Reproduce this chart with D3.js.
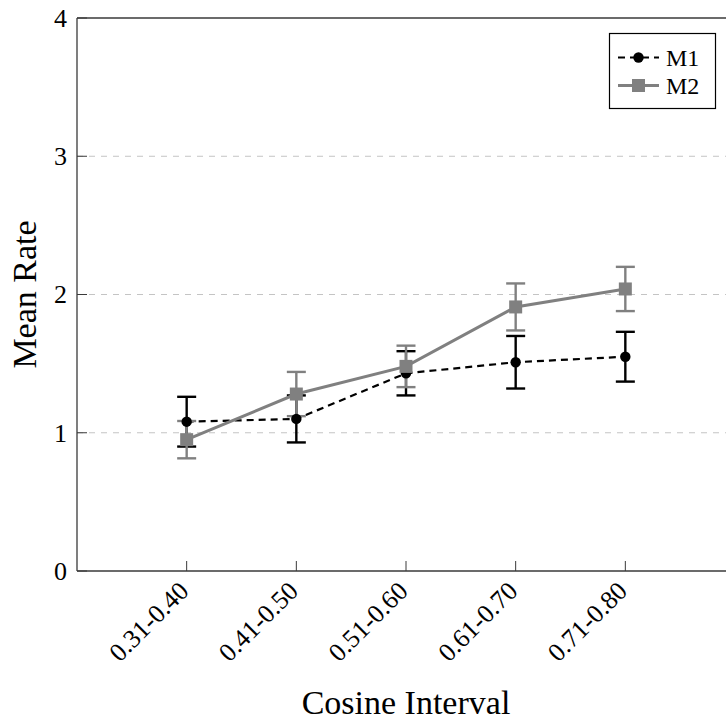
<!DOCTYPE html>
<html>
<head>
<meta charset="utf-8">
<script src="https://cdn.jsdelivr.net/npm/d3@7"></script>
<style>
  body { margin: 0; background: #fff; }
  text { font-family: "Liberation Serif", "Times New Roman", Times, "DejaVu Serif", serif; }
</style>
</head>
<body>
<div id="chart"></div>
<script>
// Chart data
var categories = ["0.31-0.40", "0.41-0.50", "0.51-0.60", "0.61-0.70", "0.71-0.80"];
var m1Values = [1.08, 1.10, 1.43, 1.51, 1.55];
var m1Errors = [0.18, 0.17, 0.16, 0.19, 0.18];
var m2Values = [0.95, 1.28, 1.48, 1.91, 2.04];
var m2Errors = [0.135, 0.16, 0.15, 0.17, 0.16];
var yTicks = [0, 1, 2, 3, 4];
var gridTicks = [1, 2, 3];

var width = 726, height = 722;
var margin = {left: 77, top: 18, bottom: 151};
var plotRight = 735;   // right frame sits just outside the window
var serif = "Liberation Serif, Times New Roman, DejaVu Serif, serif";

var svg = d3.select("#chart").append("svg")
    .attr("width", width).attr("height", height)
    .attr("font-family", serif);

// x: categories placed at 0..4, axis runs from -1 to 5
var x = d3.scaleLinear().domain([-1, 5]).range([margin.left, plotRight]);
var y = d3.scaleLinear().domain([0, 4]).range([height - margin.bottom, margin.top]);

var axisColor = "#3a3a3a";

// Grid lines
svg.append("g").selectAll("line")
    .data(gridTicks).enter().append("line")
    .attr("x1", x(-1)).attr("x2", x(5))
    .attr("y1", function(d) { return y(d); })
    .attr("y2", function(d) { return y(d); })
    .style("stroke", "#c4c4c4")
    .style("stroke-width", 1)
    .style("stroke-dasharray", "6,6");

// Frame
var frame = svg.append("g").style("stroke", axisColor).style("stroke-width", 1.3).style("fill", "none");
frame.append("line").attr("x1", x(-1)).attr("x2", x(-1)).attr("y1", y(0)).attr("y2", y(4));
frame.append("line").attr("x1", x(-1)).attr("x2", x(5)).attr("y1", y(0)).attr("y2", y(0));
frame.append("line").attr("x1", x(-1)).attr("x2", x(5)).attr("y1", y(4)).attr("y2", y(4));

// y ticks (inside) and labels
svg.append("g").selectAll("line")
    .data(yTicks).enter().append("line")
    .attr("x1", x(-1)).attr("x2", x(-1) + 10)
    .attr("y1", function(d) { return y(d); })
    .attr("y2", function(d) { return y(d); })
    .style("stroke", axisColor).style("stroke-width", 1);
svg.append("g").selectAll("text")
    .data(yTicks).enter().append("text")
    .attr("x", x(-1) - 10)
    .attr("y", function(d) { return y(d); })
    .attr("dy", "0.34em")
    .attr("text-anchor", "end")
    .attr("font-family", serif)
    .style("font-size", "26px")
    .text(function(d) { return d; });

// x ticks (inside) and rotated labels
svg.append("g").selectAll("line")
    .data(categories).enter().append("line")
    .attr("x1", function(d, i) { return x(i); })
    .attr("x2", function(d, i) { return x(i); })
    .attr("y1", y(0)).attr("y2", y(0) - 10)
    .style("stroke", axisColor).style("stroke-width", 1);
svg.append("g").selectAll("text")
    .data(categories).enter().append("text")
    .attr("transform", function(d, i) {
        return "translate(" + (x(i) - 3) + "," + (y(0) + 15) + ") rotate(-45)";
    })
    .attr("text-anchor", "end")
    .attr("dy", "0.35em")
    .attr("font-family", serif)
    .style("font-size", "26px")
    .text(function(d) { return d; });

// Axis titles
svg.append("text")
    .attr("x", (x(-1) + x(5)) / 2)
    .attr("y", 714)
    .attr("text-anchor", "middle")
    .attr("font-family", serif)
    .style("font-size", "34px")
    .text("Cosine Interval");
svg.append("text")
    .attr("transform", "translate(36," + ((y(0) + y(4)) / 2) + ") rotate(-90)")
    .attr("text-anchor", "middle")
    .attr("font-family", serif)
    .style("font-size", "34px")
    .text("Mean Rate");

// Series definitions
var series = [
    {name: "M1", values: m1Values, errors: m1Errors, color: "#000", width: 2.2, dash: "7,5", marker: "circle"},
    {name: "M2", values: m2Values, errors: m2Errors, color: "#808080", width: 3, dash: null, marker: "square"}
];

var line = d3.line()
    .x(function(d, i) { return x(i); })
    .y(function(d) { return y(d); });

// Lines and error bars per series
series.forEach(function(s) {
    svg.append("path")
        .datum(s.values)
        .attr("d", line)
        .style("fill", "none")
        .style("stroke", s.color)
        .style("stroke-width", s.width)
        .style("stroke-dasharray", s.dash);

    var eb = svg.append("g").style("stroke", s.color).style("stroke-width", 2.4);
    s.values.forEach(function(v, i) {
        var cx = x(i), top = y(v + s.errors[i]), bot = y(v - s.errors[i]);
        eb.append("line").attr("x1", cx).attr("x2", cx).attr("y1", top).attr("y2", bot);
        eb.append("line").attr("x1", cx - 9.5).attr("x2", cx + 9.5).attr("y1", top).attr("y2", top);
        eb.append("line").attr("x1", cx - 9.5).attr("x2", cx + 9.5).attr("y1", bot).attr("y2", bot);
    });
});

// Markers drawn on top of all lines
function drawMarker(g, s, cx, cy) {
    if (s.marker === "circle") {
        g.append("circle").attr("cx", cx).attr("cy", cy).attr("r", 5.2).style("fill", s.color);
    } else {
        g.append("rect").attr("x", cx - 6.5).attr("y", cy - 6.5)
            .attr("width", 13).attr("height", 13).style("fill", s.color);
    }
}
series.forEach(function(s) {
    var g = svg.append("g");
    s.values.forEach(function(v, i) { drawMarker(g, s, x(i), y(v)); });
});

// Legend
var legend = svg.append("g");
legend.append("rect")
    .attr("x", 609.5).attr("y", 33.5).attr("width", 106).attr("height", 75)
    .style("fill", "#fff").style("stroke", "#000").style("stroke-width", 1.2);
series.forEach(function(s, i) {
    var ly = 57.5 + i * 28;
    legend.append("line")
        .attr("x1", 618).attr("x2", 659).attr("y1", ly).attr("y2", ly)
        .style("stroke", s.color).style("stroke-width", s.width)
        .style("stroke-dasharray", s.dash);
    drawMarker(legend, s, 638.5, ly);
    legend.append("text")
        .attr("x", 666).attr("y", ly).attr("dy", "0.35em")
        .attr("font-family", serif)
        .style("font-size", "24px")
        .text(s.name);
});
</script>
</body>
</html>
